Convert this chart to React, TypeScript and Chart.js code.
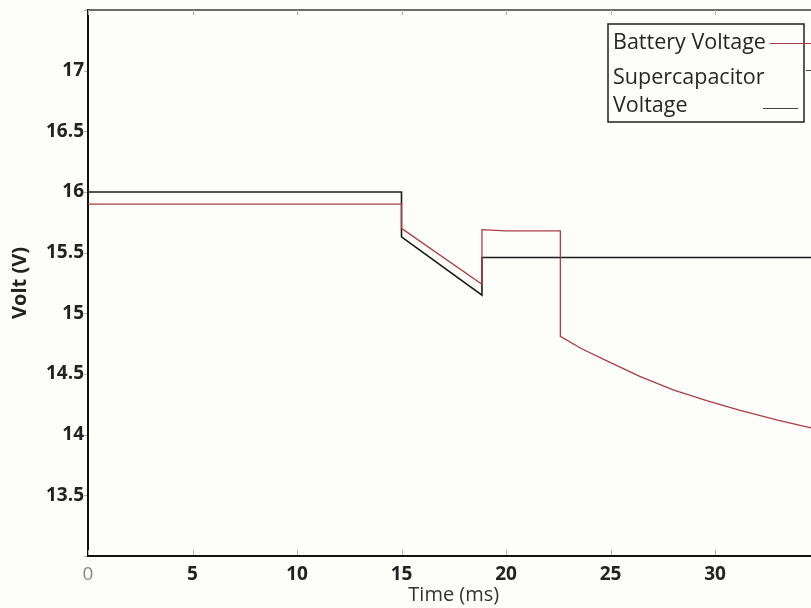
import { useEffect, useRef } from "react";
import { Chart, registerables } from "chart.js";
Chart.register(...registerables);

const batteryTime = [0, 15, 15, 18.85, 18.85, 20, 22.6, 22.6, 23.6, 24.8, 26.4, 28, 29.6, 31.2, 33, 35];
const batteryVolt = [15.9, 15.9, 15.7, 15.24, 15.69, 15.68, 15.68, 14.81, 14.71, 14.61, 14.48, 14.37, 14.28, 14.2, 14.12, 14.04];
const superTime = [0, 15, 15, 18.85, 18.85, 35];
const superVolt = [16, 16, 15.63, 15.15, 15.46, 15.46];
const legendLabels = ["Battery Voltage", "Supercapacitor", "Voltage"];
const xTitle = "Time (ms)";
const yTitle = "Volt (V)";

const RED = "rgb(170,60,76)";
const BLACK = "#1b1b1b";
const FONT = "'Open Sans', sans-serif";

export default function App() {
  const ref = useRef<HTMLCanvasElement | null>(null);
  useEffect(() => {
    if (!ref.current) return;
    Chart.defaults.font.family = FONT;
    const framePlugin = {
      id: "frame",
      beforeDraw(chart: any) {
        const { ctx, width, height } = chart;
        ctx.save();
        ctx.fillStyle = "#fdfdfa";
        ctx.fillRect(0, 0, width, height);
        ctx.restore();
      },
      afterDraw(chart: any) {
        const { ctx, chartArea } = chart;
        const xs = chart.scales.x;
        const ys = chart.scales.y;
        ctx.save();
        // top border
        ctx.strokeStyle = "#3a3a3a";
        ctx.lineWidth = 1.5;
        ctx.beginPath();
        ctx.moveTo(chartArea.left, chartArea.top);
        ctx.lineTo(chartArea.right, chartArea.top);
        ctx.stroke();
        // small tick marks
        ctx.strokeStyle = "#b0b0b0";
        ctx.lineWidth = 1;
        xs.ticks.forEach((t: any) => {
          const px = Math.round(xs.getPixelForValue(t.value)) + 0.5;
          ctx.beginPath();
          ctx.moveTo(px, chartArea.bottom - 1);
          ctx.lineTo(px, chartArea.bottom - 6);
          ctx.moveTo(px, chartArea.top);
          ctx.lineTo(px, chartArea.top + 5);
          ctx.stroke();
        });
        ys.ticks.forEach((t: any) => {
          const py = Math.round(ys.getPixelForValue(t.value)) + 0.5;
          ctx.beginPath();
          ctx.moveTo(chartArea.left - 4, py);
          ctx.lineTo(chartArea.left - 1, py);
          ctx.stroke();
        });
        // legend box
        const bx = 608, by = 24, bw = 196, bh = 98;
        ctx.strokeStyle = "#222";
        ctx.lineWidth = 1.5;
        ctx.strokeRect(bx, by, bw, bh);
        ctx.fillStyle = "#262626";
        ctx.font = `21.5px ${FONT}`;
        ctx.textBaseline = "alphabetic";
        ctx.textAlign = "left";
        ctx.fillText(legendLabels[0], 613, 49);
        ctx.fillText(legendLabels[1], 613, 84);
        ctx.fillText(legendLabels[2], 613, 112);
        ctx.strokeStyle = RED;
        ctx.lineWidth = 1.2;
        ctx.beginPath();
        ctx.moveTo(770, 43.5);
        ctx.lineTo(830, 43.5);
        ctx.stroke();
        ctx.strokeStyle = "#444";
        ctx.lineWidth = 1;
        ctx.beginPath();
        ctx.moveTo(763, 108.5);
        ctx.lineTo(798, 108.5);
        ctx.moveTo(806, 70.5);
        ctx.lineTo(811, 70.5);
        ctx.stroke();
        ctx.restore();
      },
    };
    const tickFont = (c: any) => ({
      size: 19,
      weight: c.tick && c.tick.value === 0 ? "normal" : "bold",
    });
    const tickColor = (c: any) => (c.tick && c.tick.value === 0 ? "#8a8a8a" : "#222");
    const chart = new Chart(ref.current, {
      type: "line",
      data: {
        datasets: [
          {
            label: "Battery Voltage",
            data: batteryTime.map((t, i) => ({ x: t, y: batteryVolt[i] })),
            borderColor: RED,
            borderWidth: 1.3,
            pointRadius: 0,
            tension: 0,
            fill: false,
          },
          {
            label: "Supercapacitor Voltage",
            data: superTime.map((t, i) => ({ x: t, y: superVolt[i] })),
            borderColor: BLACK,
            borderWidth: 1.6,
            pointRadius: 0,
            tension: 0,
            fill: false,
          },
        ],
      },
      options: {
        responsive: false,
        animation: false,
        layout: { padding: { top: 10, right: 10.5, left: 0, bottom: 0 } },
        plugins: { legend: { display: false }, tooltip: { enabled: false } },
        scales: {
          x: {
            type: "linear",
            min: 0,
            max: 35,
            afterFit: (s: any) => {
              s.height = 52;
              s.paddingLeft = 0;
              s.paddingRight = 0;
            },
            grid: { display: false, drawTicks: false },
            border: { display: true, color: "#111", width: 2 },
            ticks: {
              stepSize: 5,
              autoSkip: false,
              maxRotation: 0,
              padding: 7,
              font: tickFont as any,
              color: tickColor as any,
              callback: (v: any) => (v === 35 ? "" : String(v)),
            },
            title: {
              display: true,
              text: xTitle,
              color: "#333",
              font: { size: 20, weight: "normal" },
              padding: { top: 0, bottom: 1 },
            },
          },
          y: {
            min: 13,
            max: 17.5,
            afterFit: (s: any) => {
              s.width = 88;
              s.paddingTop = 0;
              s.paddingBottom = 0;
            },
            grid: { display: false, drawTicks: false },
            border: { display: true, color: "#111", width: 2 },
            ticks: {
              stepSize: 0.5,
              autoSkip: false,
              padding: 4,
              font: { size: 19, weight: "bold" },
              color: "#222",
              callback: (v: any) => (v === 13 || v === 17.5 ? "" : String(v)),
            },
            title: {
              display: true,
              text: yTitle,
              color: "#222",
              font: { size: 20, weight: "bold" },
              padding: { top: 8, bottom: 0 },
            },
          },
        },
      },
      plugins: [framePlugin],
    });
    return () => chart.destroy();
  }, []);
  return (
    <div
      style={{
        position: "fixed",
        left: 0,
        top: 0,
        width: 811,
        height: 608,
        overflow: "hidden",
        background: "#fdfdfa",
      }}
    >
      <canvas ref={ref} width={830} height={608} style={{ display: "block" }} />
    </div>
  );
}
